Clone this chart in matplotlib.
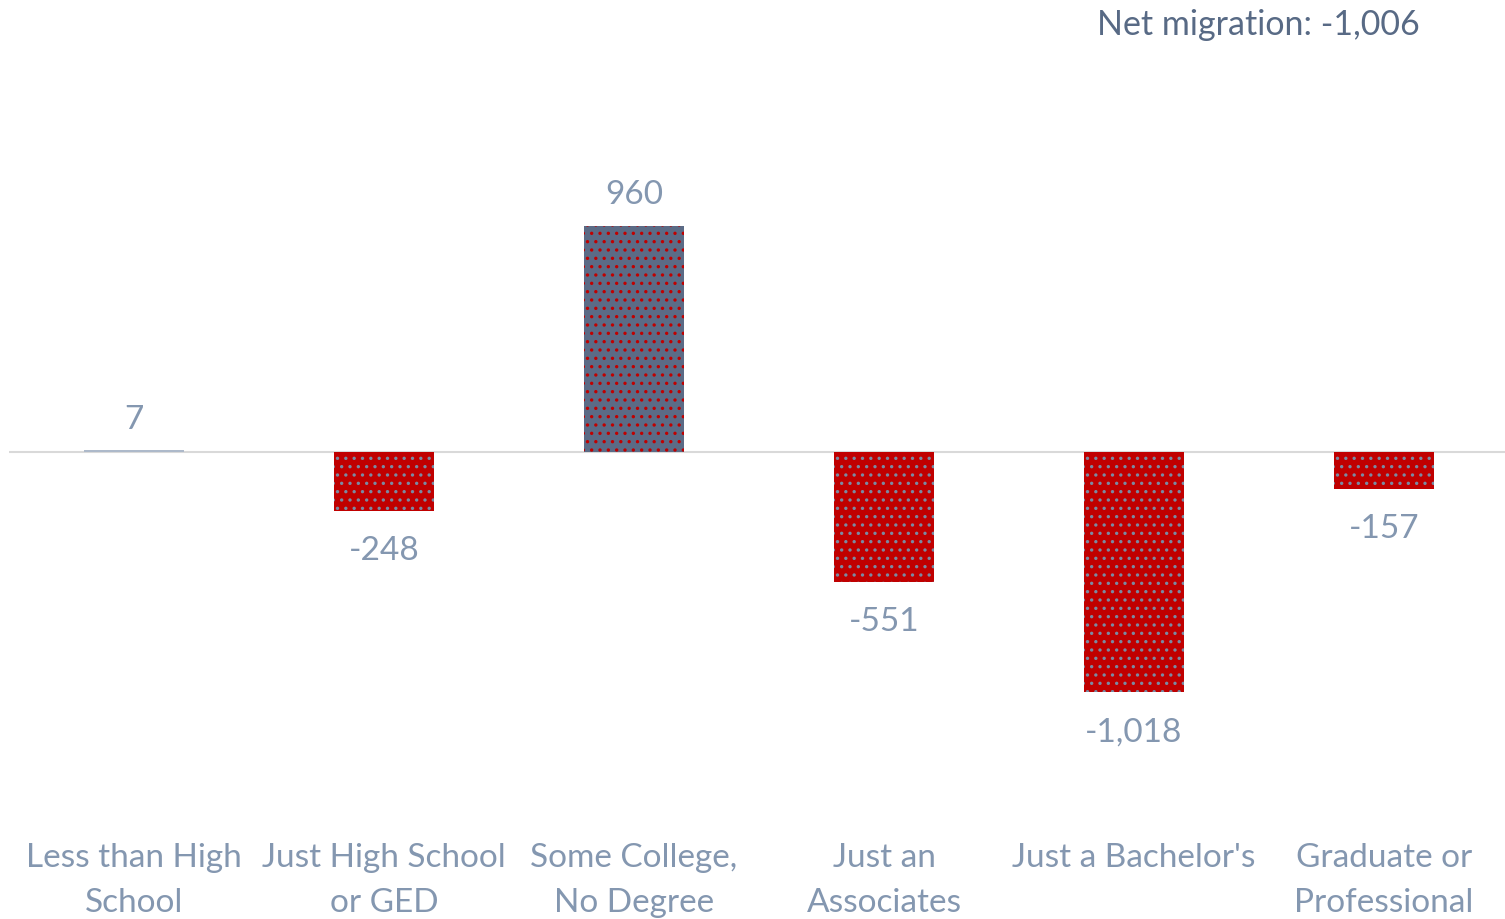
import numpy as np
import matplotlib.pyplot as plt

plt.rcParams['font.family'] = ['Lato', 'DejaVu Sans']
plt.rcParams['hatch.linewidth'] = 1.2

# Net migration by education level
categories = ["Less than High\nSchool", "Just High School\nor GED", "Some College,\nNo Degree",
              "Just an\nAssociates", "Just a Bachelor's", "Graduate or\nProfessional"]
values = [7, -248, 960, -551, -1018, -157]
net_total = -1006

pos_color = '#5B6B86'
neg_color = '#C00000'
pos_dot = '#C00000'
neg_dot = '#7A8AA2'
label_color = '#8497B0'

fig = plt.figure(figsize=(15.05, 9.19), dpi=100)
ax = fig.add_axes([9 / 1505, 99 / 919, 1500 / 1505, 780 / 919])

x = np.arange(len(categories))
for xi, v in zip(x, values):
    if v >= 0:
        fc, dc = pos_color, pos_dot
    else:
        fc, dc = neg_color, neg_dot
    if abs(v) < 20:
        fc, dc = '#ADB9CA', '#ADB9CA'
    ax.bar(xi, v, width=0.4, color=fc, edgecolor=dc, linewidth=0, hatch='..', zorder=2)
    lab = f"{v:,}"
    if v >= 0:
        ax.annotate(lab, (xi, v), xytext=(0, 11), textcoords='offset points',
                    ha='center', va='bottom', fontsize=24, color=label_color)
    else:
        ax.annotate(lab, (xi, v), xytext=(0, -18), textcoords='offset points',
                    ha='center', va='top', fontsize=24, color=label_color)

ax.axhline(0, color='#D9D9D9', linewidth=1.5, zorder=1)
ax.set_xlim(-0.5, 5.5)
ax.set_ylim(-1559, 1746)
ax.set_yticks([])
ax.set_xticks([])
for s in ax.spines.values():
    s.set_visible(False)

# category labels below the plot
for xi, c in zip(x, categories):
    ax.text(xi, -0.03, c, transform=ax.get_xaxis_transform(), ha='center', va='top',
            fontsize=24, color=label_color, linespacing=1.6, clip_on=False)

fig.text(1420 / 1505, 1 - 25 / 919, f"Net migration: {net_total:,}", ha='right', va='center',
         fontsize=24.5, color='#586A85')

fig.savefig('out.png', dpi=100)
